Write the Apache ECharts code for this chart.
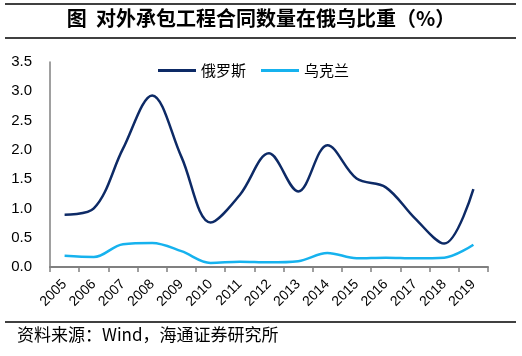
<!DOCTYPE html>
<html>
<head>
<meta charset="utf-8">
<script src="https://cdn.jsdelivr.net/npm/echarts@6/dist/echarts.min.js"></script>
<style>html,body{margin:0;padding:0;background:#fff;}#c{width:522px;height:356px;}</style>
</head>
<body>
<div id="c"></div>
<script>
var categories = ['2005','2006','2007','2008','2009','2010','2011','2012','2013','2014','2015','2016','2017','2018','2019'];
var russia = [0.89, 1.0, 2.02, 2.93, 1.88, 0.76, 1.23, 1.94, 1.29, 2.08, 1.51, 1.36, 0.83, 0.40, 1.33];
var ukraine = [0.19, 0.17, 0.39, 0.41, 0.27, 0.07, 0.09, 0.08, 0.10, 0.24, 0.15, 0.16, 0.15, 0.16, 0.38];
var yTicks = [0, 0.5, 1.0, 1.5, 2.0, 2.5, 3.0, 3.5];
var titleText = '图  对外承包工程合同数量在俄乌比重（%）';
var sourceText = '资料来源：Wind，海通证券研究所';

var chart = echarts.init(document.getElementById('c'), null, {renderer: 'canvas'});
var cjk = '"Noto Sans CJK SC", sans-serif';
var latin = 'Arial, "Liberation Sans", sans-serif';
chart.setOption({
  animation: false,
  backgroundColor: '#fff',
  grid: {left: 50, right: 34, top: 62, bottom: 89, containLabel: false},
  legend: {
    left: 153, top: 58,
    itemWidth: 38, itemHeight: 14, itemGap: 15,
    textStyle: {fontFamily: cjk, fontSize: 15, color: '#000'},
    data: [
      {name: '俄罗斯', icon: 'path://M0,0 L38,0 L38,3 L0,3 Z'},
      {name: '乌克兰', icon: 'path://M0,0 L38,0 L38,3 L0,3 Z'}
    ]
  },
  xAxis: {
    type: 'category',
    data: categories,
    boundaryGap: true,
    axisLine: {lineStyle: {color: '#808080', width: 2}},
    axisTick: {show: true, length: 5, lineStyle: {color: '#808080', width: 1.5}},
    axisLabel: {rotate: 45, interval: 0, fontFamily: latin, fontSize: 14, color: '#000', margin: 15}
  },
  yAxis: {
    type: 'value',
    min: yTicks[0], max: yTicks[yTicks.length - 1], interval: 0.5,
    axisLine: {show: true, lineStyle: {color: '#808080', width: 1.5}},
    axisTick: {show: false},
    splitLine: {show: false},
    axisLabel: {
      fontFamily: latin, fontSize: 15, color: '#000', margin: 18,
      formatter: function (v) { return v.toFixed(1); }
    }
  },
  series: [
    {name: '俄罗斯', type: 'line', data: russia, smooth: 0.35, symbol: 'none',
     lineStyle: {color: '#0d2a66', width: 2.5}, itemStyle: {color: '#0d2a66'}},
    {name: '乌克兰', type: 'line', data: ukraine, smooth: 0.35, symbol: 'none',
     lineStyle: {color: '#16b2ee', width: 2.5}, itemStyle: {color: '#16b2ee'}}
  ],
  graphic: [
    {type: 'line', shape: {x1: 5, y1: 4, x2: 516, y2: 4}, style: {stroke: '#000', lineWidth: 1.5}},
    {type: 'line', shape: {x1: 5, y1: 38, x2: 516, y2: 38}, style: {stroke: '#000', lineWidth: 1.5}},
    {type: 'text', left: 'center', top: 8, style: {text: titleText, font: 'bold 20px "Noto Sans CJK SC", sans-serif', fill: '#000'}},
    {type: 'line', shape: {x1: 5, y1: 322, x2: 516, y2: 322}, style: {stroke: '#000', lineWidth: 1.5}},
    {type: 'text', left: 17, top: 326, style: {text: sourceText, font: '17px "Noto Sans CJK SC", sans-serif', fill: '#000'}}
  ]
});
</script>
</body>
</html>
